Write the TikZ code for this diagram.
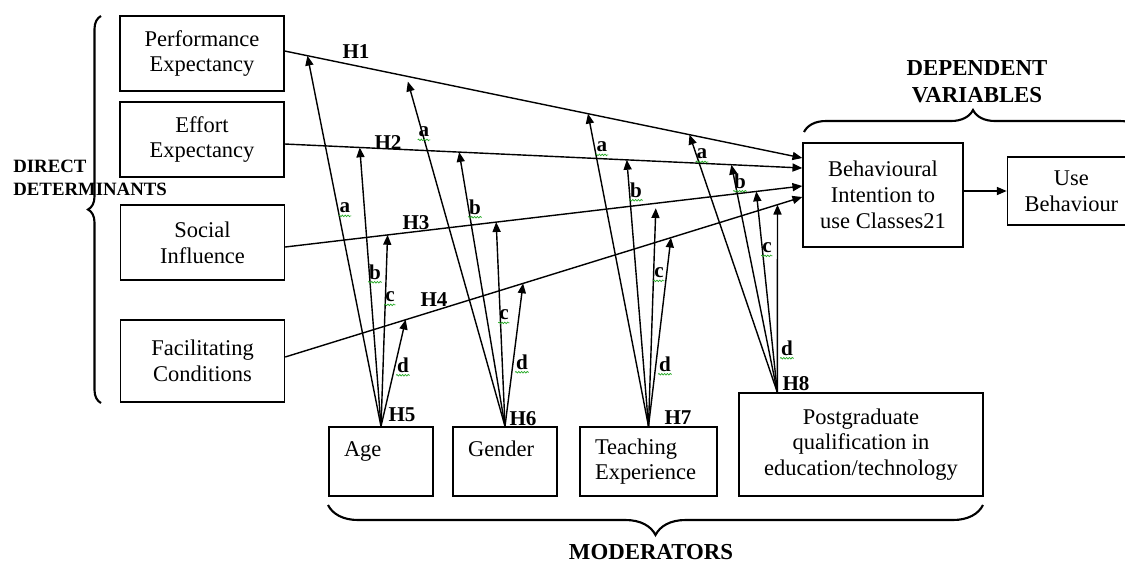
\documentclass[tikz,border=0pt]{standalone}
\usepackage{fontspec}
\setmainfont{Liberation Serif}
\usepackage{tikz}
\usetikzlibrary{positioning,arrows.meta,calc,decorations.pathreplacing,decorations.pathmorphing}
\definecolor{cgreen}{RGB}{40,170,40}

\begin{document}
\begin{tikzpicture}[
  x=0.02cm,y=-0.02cm,
  font=\fontsize{12.8}{14.7}\selectfont,
  box/.style={rectangle,draw,line width=0.8pt,align=center,inner sep=0,minimum width=3.28cm,minimum height=1.5cm},
  mod/.style={rectangle,draw,line width=0.8pt,align=left,inner xsep=0.3cm,inner ysep=0,minimum height=1.38cm},
  a/.style={-{Triangle[length=5.6pt,width=4.6pt]},line width=0.8pt},
  hl/.style={font=\fontsize{12}{13}\selectfont\bfseries,inner sep=0},
  lt/.style={font=\fontsize{12}{13}\selectfont\bfseries,inner sep=0.4pt},
  ttl/.style={font=\fontsize{13}{15.3}\selectfont\bfseries,align=center,inner sep=0},
  br/.style={decorate,line width=1.2pt},
  sq/.style={cgreen,line width=0.4pt,decorate,decoration={snake,amplitude=0.45pt,segment length=1.6pt}},
]
\useasboundingbox (0,0) rectangle (1125,562);
% --- direct determinants ---
\node[box] (pe) at (202,53.5) {Performance\\Expectancy};
\node[box] (ee) at (202,139.5) {Effort\\Expectancy};
\node[box] (si) at (202.5,242.5) {Social\\Influence};
\node[box,minimum height=1.64cm] (fc) at (202.5,361) {Facilitating\\Conditions};
\draw[br,decoration={brace,amplitude=0.26cm}] (101,403) -- (101,16);
\node[ttl,font=\fontsize{10.7}{13}\selectfont\bfseries,align=left,anchor=west] (dd) at (13,178) {DIRECT\\DETERMINANTS};
% --- dependent variables ---
\node[box,minimum width=3.2cm,minimum height=2.08cm] (bi) at (883,195) {Behavioural\\Intention to\\use Classes21};
\node[box,minimum width=2.56cm,minimum height=1.36cm,right=0.86cm of bi,yshift=0.08cm] (ub) {Use\\Behaviour};
\draw[a] (bi.east |- ub.west) -- (ub.west);
\draw[br,decoration={brace,amplitude=0.44cm}] (804,132) -- (1142,132);
\node[ttl] (dv) at (977,82) {DEPENDENT\\VARIABLES};
% --- moderators ---
\node[mod,text width=1.48cm] (age) at (381,461.5) {Age\\~};
\node[mod,text width=1.48cm] (gen) at (505,461.5) {Gender\\~};
\node[mod,text width=2.14cm] (tch) at (648.5,461.5) {Teaching\\Experience};
\node[box,minimum width=4.88cm,minimum height=2.06cm] (pg) at (861,444.5) {Postgraduate\\qualification in\\education/technology};
\draw[br,decoration={brace,amplitude=0.6cm}] (983,505) -- (328,505);
\node[ttl,anchor=base] (md) at (651,559.5) {MODERATORS};
% --- H1..H4 ---
\coordinate (s1) at ($(pe.east)+(0,-2.5)$); \coordinate (e1) at ($(bi.west)+(0,-37)$);
\coordinate (s2) at ($(ee.east)+(0,4.5)$);  \coordinate (e2) at ($(bi.west)+(0,-27)$);
\coordinate (s3) at ($(si.east)+(0,4.5)$);  \coordinate (e3) at ($(bi.west)+(0,-9)$);
\coordinate (s4) at ($(fc.east)+(0,-4)$);   \coordinate (e4) at ($(bi.west)+(0,2)$);
\foreach \i in {1,...,4} \draw[a] (s\i) -- (e\i);
\node[hl] (h1) at (356,52) {H1}; \node[hl] (h2) at (388,143) {H2};
\node[hl] (h3) at (416,223) {H3}; \node[hl] (h4) at (434,300) {H4};
% --- H5..H8, one fan per moderator ---
\coordinate (m5) at (age.north); \coordinate (m6) at (gen.north);
\coordinate (m7) at (tch.north); \coordinate (m8) at ($(pg.north west)+(39,0)$);
\node[hl] (h5) at (402,415) {H5}; \node[hl] (h6) at (523,419) {H6};
\node[hl] (h7) at (678,418) {H7}; \node[hl] (h8) at (796,384) {H8};
\foreach \ltr/\i/\f/\s in {a/1/0.044/0pt,b/2/0.145/0pt,c/3/0.198/0pt,d/4/0.233/0pt}
  {\coordinate (t5\ltr) at ($(s\i)!\f!(e\i)$); \draw[a,shorten >=\s] (m5) -- (t5\ltr);}
\foreach \ltr/\i/\f/\s in {a/1/0.235/3.2pt,b/2/0.337/0pt,c/3/0.408/0pt,d/4/0.460/0pt}
  {\coordinate (t6\ltr) at ($(s\i)!\f!(e\i)$); \draw[a,shorten >=\s] (m6) -- (t6\ltr);}
\foreach \ltr/\i/\f/\s in {a/1/0.586/0pt,b/2/0.661/0pt,c/3/0.717/2.8pt,d/4/0.746/0pt}
  {\coordinate (t7\ltr) at ($(s\i)!\f!(e\i)$); \draw[a,shorten >=\s] (m7) -- (t7\ltr);}
\foreach \ltr/\i/\f/\s in {a/1/0.782/0pt,b/2/0.863/0pt,c/3/0.911/0pt,d/4/0.952/0pt}
  {\coordinate (t8\ltr) at ($(s\i)!\f!(e\i)$); \draw[a,shorten >=\s] (m8) -- (t8\ltr);}
\foreach \ltr/\x/\y in {a/345/208,b/375/272,c/390/297,d/403/365} \node[lt] (l5\ltr) at (\x,\y) {\ltr};
\foreach \ltr/\x/\y in {a/424/132,b/475/207,c/504/315,d/522/362} \node[lt] (l6\ltr) at (\x,\y) {\ltr};
\foreach \ltr/\x/\y in {a/602/147,b/636/190,c/659/273,d/665/364} \node[lt] (l7\ltr) at (\x,\y) {\ltr};
\foreach \ltr/\x/\y in {a/702/154,b/740/181,c/767/248,d/787/348} \node[lt] (l8\ltr) at (\x,\y) {\ltr};
\foreach \m in {5,...,8} \foreach \ltr in {a,b,c,d}
  \draw[sq] ([yshift=-1pt]l\m\ltr.south west) -- ([yshift=-1pt]l\m\ltr.south east);
\end{tikzpicture}
\end{document}
